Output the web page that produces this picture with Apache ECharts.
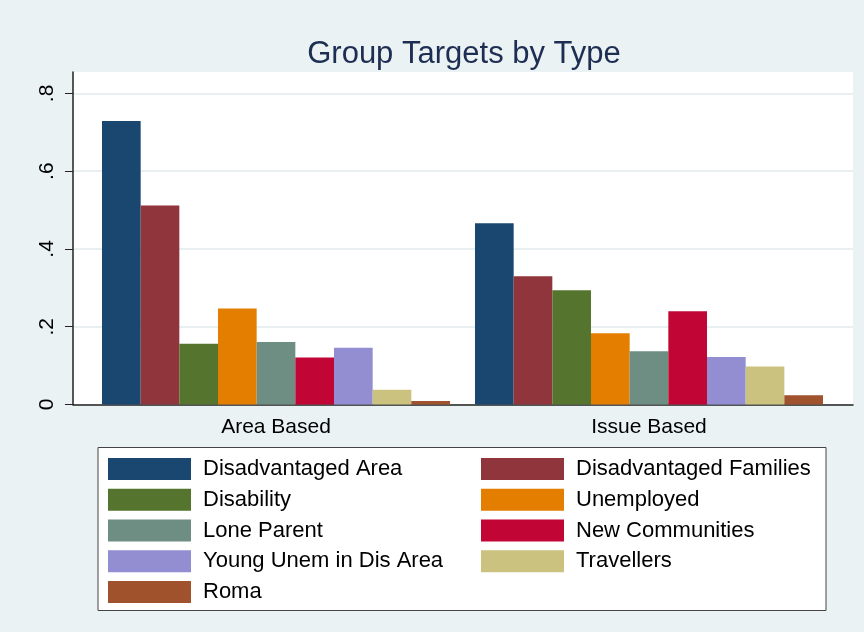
<!DOCTYPE html>
<html>
<head>
<meta charset="utf-8">
<title>Group Targets by Type</title>
<script src="https://cdn.jsdelivr.net/npm/echarts@6/dist/echarts.min.js"></script>
<style>
  html, body { margin: 0; padding: 0; background: #eaf2f3; }
  #chart { width: 864px; height: 632px; }
</style>
</head>
<body>
<div id="chart"></div>
<script>
// categories on the x axis
var categories = ['Area Based', 'Issue Based'];
// series names, in legend order
var seriesNames = ['Disadvantaged Area', 'Disadvantaged Families', 'Disability', 'Unemployed',
  'Lone Parent', 'New Communities', 'Young Unem in Dis Area', 'Travellers', 'Roma'];
// values per series (Area Based, Issue Based)
var disadvantagedArea = [0.729, 0.466];
var disadvantagedFamilies = [0.512, 0.330];
var disability = [0.156, 0.294];
var unemployed = [0.247, 0.183];
var loneParent = [0.161, 0.137];
var newCommunities = [0.121, 0.240];
var youngUnem = [0.146, 0.122];
var travellers = [0.038, 0.098];
var roma = [0.009, 0.024];
// y axis tick values
var yTicks = [0, 0.2, 0.4, 0.6, 0.8];

var seriesValues = [disadvantagedArea, disadvantagedFamilies, disability, unemployed,
  loneParent, newCommunities, youngUnem, travellers, roma];
var colors = ['#1a476f', '#90353b', '#55752f', '#e37e00', '#6e8e84',
  '#c10534', '#938dd2', '#cac27e', '#a0522d'];

var font = '"Liberation Sans", Arial, sans-serif';
var yMax = 0.855;

var myChart = echarts.init(document.getElementById('chart'));

var series = [];
for (var i = 0; i < seriesNames.length; i++) {
  series.push({
    name: seriesNames[i],
    type: 'bar',
    xAxisIndex: 1,
    yAxisIndex: 1,
    data: seriesValues[i],
    barGap: '0%',
    barCategoryGap: '6.7%',
    itemStyle: { color: colors[i] }
  });
}

function legendCol(names, left) {
  return {
    orient: 'vertical',
    left: left,
    top: 453,
    itemWidth: 83,
    itemHeight: 22,
    itemGap: 8.75,
    icon: 'rect',
    data: names,
    textStyle: {
      fontFamily: font,
      fontSize: 22,
      color: '#000',
      lineHeight: 22,
      padding: [0, 0, 0, 7]
    }
  };
}

var option = {
  backgroundColor: '#eaf2f3',
  animation: false,
  color: colors,
  title: {
    text: 'Group Targets by Type',
    left: 459,
    top: 34,
    textAlign: 'center',
    textStyle: { fontFamily: font, fontSize: 31, fontWeight: 'normal', color: '#1e2d52' }
  },
  legend: [
    legendCol(['Disadvantaged Area', 'Disability', 'Lone Parent', 'Young Unem in Dis Area', 'Roma'], 103),
    legendCol(['Disadvantaged Families', 'Unemployed', 'New Communities', 'Travellers'], 476)
  ],
  graphic: [{
    type: 'rect',
    z: -1,
    shape: { x: 98, y: 447.5, width: 728, height: 163 },
    style: { fill: '#ffffff', stroke: '#444', lineWidth: 1 }
  }],
  grid: [
    // plot region with y axis and grid lines
    { left: 73, right: 11, top: 72, bottom: 227.5, show: true, backgroundColor: '#ffffff', borderWidth: 0 },
    // bar placement
    { left: 89.5, right: 28.5, top: 72, bottom: 227.5 }
  ],
  xAxis: [
    {
      gridIndex: 0, type: 'value', min: 0, max: 1,
      axisLine: { show: true, lineStyle: { color: '#222', width: 1.5 } },
      axisTick: { show: false }, axisLabel: { show: false }, splitLine: { show: false }
    },
    {
      gridIndex: 1, type: 'category', data: categories,
      axisLine: { show: false }, axisTick: { show: false },
      axisLabel: { fontFamily: font, fontSize: 21, color: '#000', margin: 12 }
    }
  ],
  yAxis: [
    {
      gridIndex: 0, type: 'value', min: 0, max: yMax, interval: 0.2,
      axisLine: { show: true, lineStyle: { color: '#222', width: 1.5 } },
      axisTick: { show: true, length: 8, customValues: yTicks, lineStyle: { color: '#222' } },
      axisLabel: {
        customValues: yTicks,
        rotate: 90,
        margin: 15,
        fontFamily: font,
        fontSize: 21,
        color: '#000',
        formatter: function (v) {
          if (Math.abs(v * 5 - Math.round(v * 5)) > 1e-6) return '';
          return v === 0 ? '0' : String(v).replace(/^0/, '');
        }
      },
      splitLine: {
        show: true,
        lineStyle: { color: ['#e8f0f1', '#e8f0f1', '#e8f0f1', '#e8f0f1', '#e8f0f1', '#ffffff'], width: 2 }
      }
    },
    { gridIndex: 1, type: 'value', min: 0, max: yMax, show: false }
  ],
  series: series
};

myChart.setOption(option);
</script>
</body>
</html>
